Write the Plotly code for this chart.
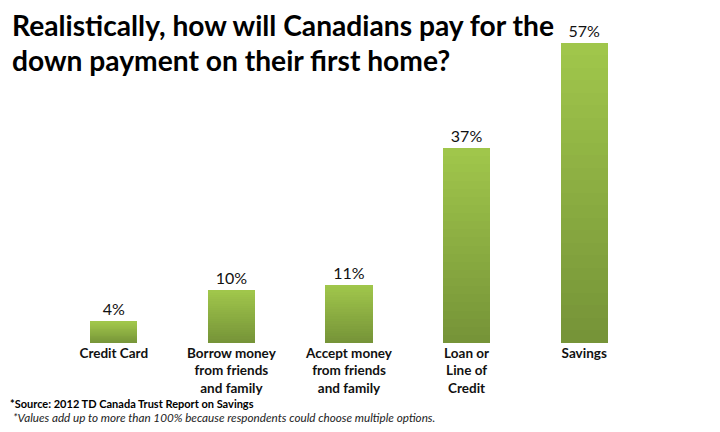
import plotly.graph_objects as go

categories = ["Credit Card", "Borrow money<br>from friends<br>and family", "Accept money<br>from friends<br>and family", "Loan or<br>Line of<br>Credit", "Savings"]
values = [4, 10, 11, 37, 57]
labels = ["4%", "10%", "11%", "37%", "57%"]

title_lines = ["Realistically, how will Canadians pay for the", "down payment on their first home?"]
source_text = "*Source: 2012 TD Canada Trust Report on Savings"
note_text = "*Values add up to more than 100% because respondents could choose multiple options."

# gradient colours (top -> bottom)
top_rgb = (160, 198, 75)
bot_rgb = (118, 148, 56)
N = 24

# page body has an 8px offset; compensate
OFF = 8
L, T, B = 55 - OFF, 27 - OFF, 89 + OFF
PW = 588
PH = 432 - T - B

def px(x):
    return (x - OFF - L) / PW

def py(y):
    return (432 - B - (y - OFF)) / PH

fig = go.Figure()
for i in range(N):
    t = i / (N - 1)
    c = tuple(round(bot_rgb[k] + (top_rgb[k] - bot_rgb[k]) * t) for k in range(3))
    fig.add_trace(go.Bar(
        x=categories,
        y=[v / N for v in values],
        marker=dict(color="rgb(%d,%d,%d)" % c, line=dict(width=0)),
        text=labels if i == N - 1 else None,
        textposition="outside" if i == N - 1 else "none",
        textfont=dict(family="Lato, Open Sans, sans-serif", size=16, color="#111"),
        cliponaxis=False,
        hoverinfo="skip",
        showlegend=False,
    ))

fig.update_layout(
    barmode="stack",
    bargap=0.6,
    width=720, height=432,
    margin=dict(l=L, r=720 - L - PW, t=T, b=B),
    plot_bgcolor="white", paper_bgcolor="white",
    showlegend=False,
)
fig.update_xaxes(
    showline=False, showgrid=False, zeroline=False, ticks="",
    tickfont=dict(family="Lato, Open Sans, sans-serif", size=13.5, color="#111", weight="bold"),
)
fig.update_yaxes(range=[0, 60], visible=False)

for line, yc in zip(title_lines, [25, 60]):
    fig.add_annotation(
        text="<b>" + line + "</b>", xref="paper", yref="paper",
        x=px(10), y=py(yc), xanchor="left", yanchor="middle",
        align="left", showarrow=False,
        font=dict(family="Lato, Open Sans, sans-serif", size=28.2, color="black"),
    )
fig.add_annotation(
    text="<b>" + source_text + "</b>", xref="paper", yref="paper",
    x=px(8), y=py(403), xanchor="left", yanchor="middle",
    showarrow=False, font=dict(family="Lato, Open Sans, sans-serif", size=11, color="black"),
)
fig.add_annotation(
    text="<i>" + note_text + "</i>", xref="paper", yref="paper",
    x=px(11), y=py(417), xanchor="left", yanchor="middle",
    showarrow=False, font=dict(family="Lato, Open Sans, sans-serif", size=11.7, color="#222"),
)

fig.write_html("out.html")
